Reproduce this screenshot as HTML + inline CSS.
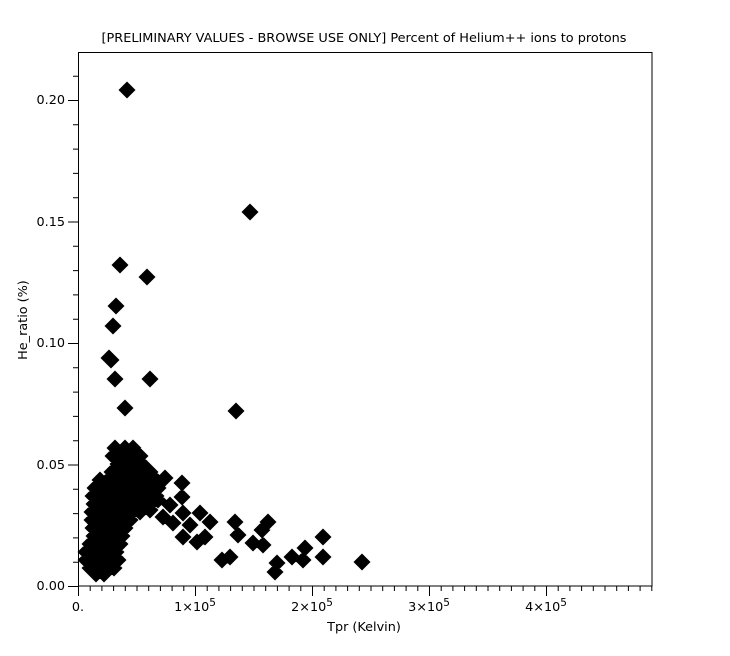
<!DOCTYPE html>
<html><head><meta charset="utf-8"><style>
body{margin:0;background:#fff}
svg text{font-family:"DejaVu Sans","Liberation Sans",sans-serif;font-size:12.8px;fill:#000}
</style></head><body>
<svg width="730" height="651" viewBox="0 0 730 651" xmlns="http://www.w3.org/2000/svg">
<rect width="730" height="651" fill="#fff"/>
<text x="364" y="42" text-anchor="middle" textLength="525" lengthAdjust="spacingAndGlyphs">[PRELIMINARY VALUES - BROWSE USE ONLY] Percent of Helium++ ions to protons</text>
<rect x="78.5" y="52.5" width="573.5" height="533.5" fill="none" stroke="#000" stroke-width="1"/>
<g id="yt">
<text x="65" y="590" text-anchor="end">0.00</text>
<text x="65" y="469" text-anchor="end">0.05</text>
<text x="65" y="347" text-anchor="end">0.10</text>
<text x="65" y="226" text-anchor="end">0.15</text>
<text x="65" y="104" text-anchor="end">0.20</text>
</g>
<text x="78" y="611" text-anchor="middle">0.</text>
<text x="195" y="611" text-anchor="middle">1×10<tspan dy="-5" font-size="10.5">5</tspan></text>
<text x="312" y="611" text-anchor="middle">2×10<tspan dy="-5" font-size="10.5">5</tspan></text>
<text x="429" y="611" text-anchor="middle">3×10<tspan dy="-5" font-size="10.5">5</tspan></text>
<text x="546" y="611" text-anchor="middle">4×10<tspan dy="-5" font-size="10.5">5</tspan></text>
<text x="364" y="631" text-anchor="middle">Tpr (Kelvin)</text>
<text transform="translate(27,320) rotate(-90)" text-anchor="middle">He_ratio (%)</text>
<path id="tk" stroke="#000" fill="none" d=""/>
<g id="pts" fill="#000"></g>
</svg>
<script>
var t="";
for(var i=0;i<=21;i++){var y=586-i*24.3;t+="M"+(i%5==0?68:73)+" "+(y+0.5)+"H78";}
for(var j=0;j<=49;j++){var x=78+j*11.7;t+="M"+(x+0.5)+" 586V"+(j%10==0?596:591);}
document.getElementById("tk").setAttribute("d",t);
var P=[[127,90],[250,212],[120,265],[147,277],[116,306],[113,326],[109,358],[111,360],[115,379],[150,379],[125,408],[236,411],
[165,478],[182,483],[182,497],[150,510],[163,517],[183,513],[200,513],[210,522],[183,537],[197,542],[205,537],[173,523],[190,525],[170,505],[158,500],
[235,522],[238,535],[222,560],[230,557],[268,522],[262,530],[253,543],[263,545],[277,563],[275,572],[292,557],[305,548],[303,560],[323,537],[323,557],[362,562]];
var rows={448:[115,125,133],456:[113,120,128,135,140],464:[118,126,134,142],472:[112,120,128,136,144,150],480:[100,108,116,124,132,140,148,156],
488:[95,103,111,119,127,135,143,150,158],496:[93,101,109,117,125,133,141,148,156],504:[94,102,110,118,126,134,142,150],512:[92,100,108,116,124,132,140],
520:[92,100,108,116,124,130],528:[93,101,109,117,125],536:[94,102,110,118,122],544:[90,98,106,114,120],552:[86,94,102,110,116],560:[86,94,102,110,118],
568:[90,98,106,114],574:[96,104]};
for(var k in rows){rows[k].forEach(function(x){P.push([x,+k]);});}
var d="";P.forEach(function(p){d+="M"+p[0]+" "+(p[1]-8.5)+"l8.5 8.5-8.5 8.5-8.5-8.5z";});
var e=document.createElementNS("http://www.w3.org/2000/svg","path");e.setAttribute("d",d);
document.getElementById("pts").appendChild(e);
</script>
</body></html>
